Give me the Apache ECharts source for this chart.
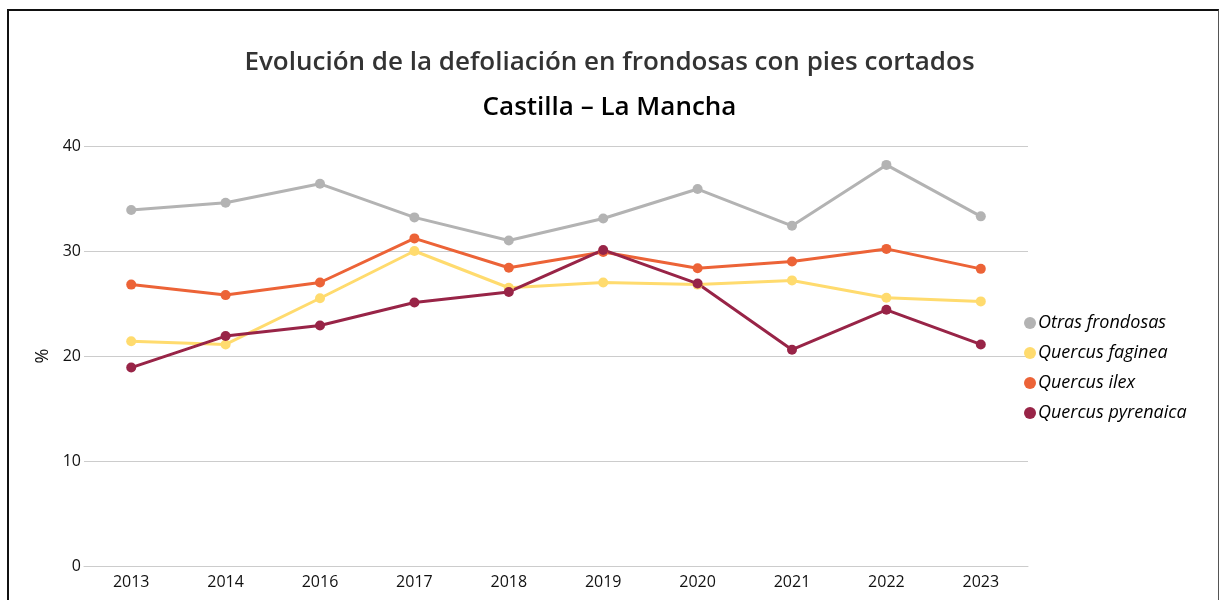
<!DOCTYPE html>
<html>
<head>
<meta charset="utf-8">
<script src="https://cdn.jsdelivr.net/npm/echarts@6/dist/echarts.min.js"></script>
<style>
  html, body { margin: 0; padding: 0; background: #fff; }
  #main { width: 1219px; height: 600px; }
  #frame {
    position: absolute; left: 7px; top: 9px; width: 1209px; height: 600px;
    border-left: 2px solid #111; border-top: 2px solid #111; border-right: 1px solid #555;
    pointer-events: none;
  }
</style>
</head>
<body>
<div id="main"></div>
<div id="frame"></div>
<script>
// datos
var years = ['2013', '2014', '2016', '2017', '2018', '2019', '2020', '2021', '2022', '2023'];
var otras = [33.9, 34.6, 36.4, 33.2, 31.0, 33.1, 35.9, 32.4, 38.2, 33.3];
var faginea = [21.4, 21.1, 25.5, 30.0, 26.5, 27.0, 26.8, 27.2, 25.55, 25.2];
var ilex = [26.8, 25.8, 27.0, 31.2, 28.4, 29.9, 28.35, 29.0, 30.2, 28.3];
var pyrenaica = [18.9, 21.9, 22.9, 25.1, 26.1, 30.1, 26.9, 20.6, 24.4, 21.1];
var yTicks = [0, 10, 20, 30, 40];

var myChart = echarts.init(document.getElementById('main'));

function serie(nombre, datos, color) {
	return {
		name: nombre,
		type: 'line',
		data: datos,
		symbol: 'circle',
		symbolSize: 10,
		lineStyle: { width: 3, color: color },
		itemStyle: { color: color },
		z: 3
	};
}

var option = {
	animation: false,
	title: [{
		text: 'Evolución de la defoliación en frondosas con pies cortados',
		left: 'center',
		top: 45,
		textStyle: { fontFamily: 'Open Sans', fontSize: 26, fontWeight: 600, color: '#333' }
	}, {
		text: 'Castilla – La Mancha',
		left: 'center',
		top: 90,
		textStyle: { fontFamily: 'Open Sans', fontSize: 26, fontWeight: 600, color: '#000' }
	}],
	legend: {
		orient: 'vertical',
		left: 1019,
		top: 309,
		itemWidth: 12,
		itemHeight: 12,
		itemGap: 12,
		icon: 'circle',
		textStyle: { fontFamily: 'Open Sans', fontSize: 18, fontStyle: 'italic', color: '#000', lineHeight: 18, padding: [0, 0, 0, -3] },
		data: ['Otras frondosas', 'Quercus faginea', 'Quercus ilex', 'Quercus pyrenaica']
	},
	grid: { left: 84, right: 191, top: 146, bottom: 34, containLabel: false },
	xAxis: {
		type: 'category',
		data: years,
		boundaryGap: true,
		axisLine: { lineStyle: { color: '#ccc' } },
		axisTick: { show: false },
		axisLabel: { margin: 8, fontFamily: 'Open Sans', fontSize: 16, fontWeight: 500, color: '#111' }
	},
	yAxis: {
		type: 'value',
		min: yTicks[0],
		max: yTicks[yTicks.length - 1],
		interval: 10,
		name: '%',
		nameLocation: 'middle',
		nameGap: 32,
		nameRotate: 90,
		nameTextStyle: { fontFamily: 'Open Sans', fontSize: 18, color: '#111' },
		axisLabel: { margin: 3, fontFamily: 'Open Sans', fontSize: 16, fontWeight: 500, color: '#111' },
		splitLine: { lineStyle: { color: '#ccc' } }
	},
	series: [
		serie('Otras frondosas', otras, '#b3b3b3'),
		serie('Quercus faginea', faginea, '#ffdb6e'),
		serie('Quercus ilex', ilex, '#ec6337'),
		serie('Quercus pyrenaica', pyrenaica, '#982447')
	]
};

myChart.setOption(option);
</script>
</body>
</html>
